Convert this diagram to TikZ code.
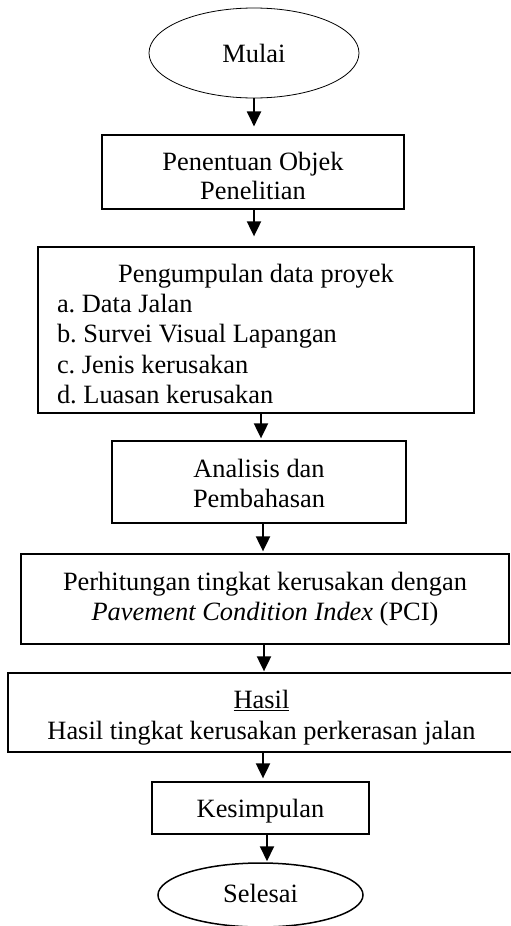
\documentclass[tikz,border=0pt]{standalone}
\usepackage{fontspec}
\setmainfont{Liberation Serif}
\usetikzlibrary{shapes.geometric,arrows.meta}
\begin{document}
\frenchspacing
\begin{tikzpicture}[x=1pt,y=-1pt,
  every node/.style={font=\fontsize{26.4}{30.4}\selectfont\frenchspacing, inner sep=0pt},
  boxnode/.style={draw, rectangle, line width=1.3pt},
  termnode/.style={draw, ellipse},
  txt/.style={align=center},
  arr/.style={-{Triangle[width=14pt,length=15pt]}, line width=2pt}]
\useasboundingbox (0,0) rectangle (511,926);
\node[termnode, line width=0.8pt, minimum width=210, minimum height=90] (mulai) at (254,53) {};
\node[txt] (mulait) at (254,53) {Mulai};
\node[boxnode, line width=1.1pt, minimum width=302, minimum height=74] (pen) at (253,172) {};
\node[txt] (pent) at (253,176) {Penentuan Objek\\[-1pt]Penelitian};
\node[boxnode, minimum width=436, minimum height=166] (peng) at (256,330) {};
\node (pengt) at (256,334) {\parbox{398pt}{\centering Pengumpulan data proyek\par\raggedright a. Data Jalan\par b. Survei Visual Lapangan\par c. Jenis kerusakan\par d. Luasan kerusakan}};
\node[boxnode, minimum width=294, minimum height=82] (ana) at (259,482) {};
\node[txt] (anat) at (259,483.5) {Analisis dan\\Pembahasan};
\node[boxnode, minimum width=488, minimum height=90] (pci) at (265,599) {};
\node[txt] (pcit) at (265,599) {Perhitungan tingkat kerusakan dengan\\\textit{Pavement Condition Index} (PCI)};
\node[boxnode, minimum width=507, minimum height=79] (hasil) at (261.5,712.5) {};
\node[txt] (hasilt) at (261.5,717.5) {\underline{Hasil}\\Hasil tingkat kerusakan perkerasan jalan};
\node[boxnode, minimum width=217, minimum height=52] (kes) at (260.5,808) {};
\node[txt] (kest) at (260.5,811) {Kesimpulan};
\node[termnode, line width=1.5pt, minimum width=205, minimum height=64] (sel) at (260.5,895) {};
\node[txt] (selt) at (260.5,893) {Selesai};
\draw[arr, shorten >=8pt] (mulai.south) -- (mulai.south |- pen.north);
\draw[arr, shorten >=10pt] ([xshift=1pt]pen.south) -- ([xshift=1pt]pen.south |- peng.north);
\draw[arr, shorten >=2pt] ([xshift=5pt]peng.south) -- ([xshift=5pt]peng.south |- ana.north);
\draw[arr, shorten >=2pt] ([xshift=4pt]ana.south) -- ([xshift=4pt]ana.south |- pci.north);
\draw[arr, shorten >=1pt] ([xshift=-1pt]pci.south) -- ([xshift=-1pt]pci.south |- hasil.north);
\draw[arr, shorten >=3pt] ([xshift=1.5pt]hasil.south) -- ([xshift=1.5pt]hasil.south |- kes.north);
\draw[arr, shorten >=1pt] ([xshift=6.5pt]kes.south) -- ([xshift=6.5pt]kes.south |- sel.north);
\end{tikzpicture}
\end{document}
